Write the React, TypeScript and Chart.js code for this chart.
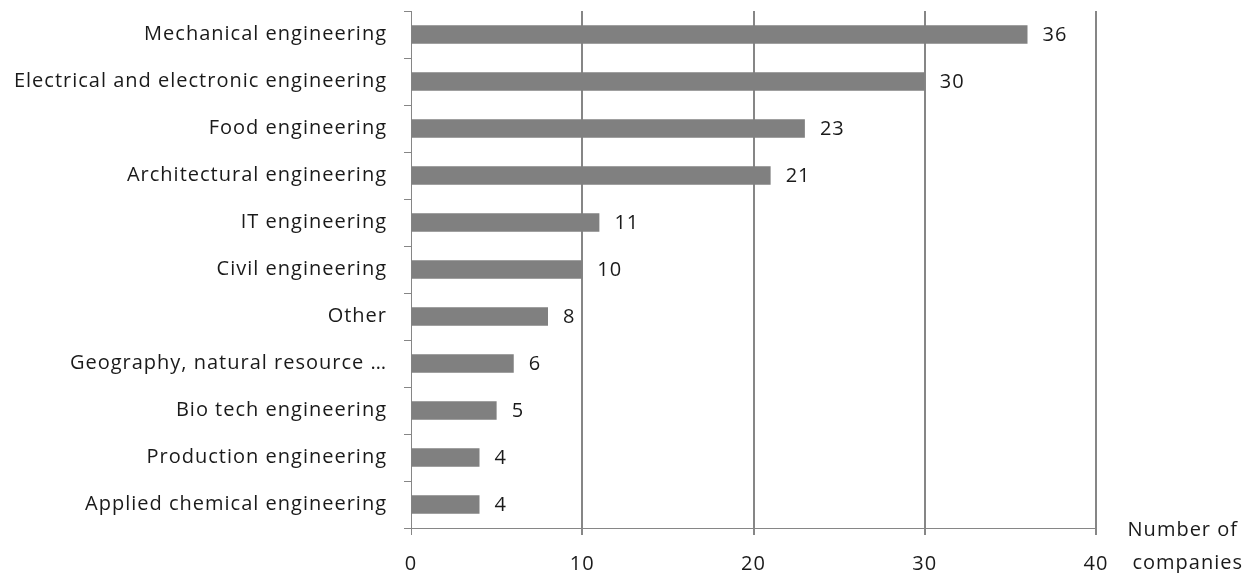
import React, { useEffect, useRef } from "react";
import { Chart, registerables } from "chart.js";

Chart.register(...registerables);

const categories: string[] = [
  "Mechanical engineering",
  "Electrical and electronic engineering",
  "Food engineering",
  "Architectural engineering",
  "IT engineering",
  "Civil engineering",
  "Other",
  "Geography, natural resource …",
  "Bio tech engineering",
  "Production engineering",
  "Applied chemical engineering",
];

const companies: number[] = [36, 30, 23, 21, 11, 10, 8, 6, 5, 4, 4];

const xTicks: number[] = [0, 10, 20, 30, 40];

const axisTitleLines: string[] = ["Number of", "companies"];

const FONT = "'Open Sans'";
const GRAY = "#868686";
const BAR = "#808080";
const TEXT = "#1a1a1a";

const spacing = {
  id: "spacing",
  beforeDraw(chart: any) {
    (chart.ctx as any).letterSpacing = "1px";
  },
};

const valueLabels = {
  id: "valueLabels",
  afterDatasetsDraw(chart: any) {
    const ctx = chart.ctx;
    const meta = chart.getDatasetMeta(0);
    ctx.save();
    ctx.letterSpacing = "1px";
    ctx.font = `20px ${FONT}`;
    ctx.fillStyle = TEXT;
    ctx.textAlign = "left";
    ctx.textBaseline = "middle";
    meta.data.forEach((bar: any, i: number) => {
      ctx.fillText(String(companies[i]), bar.x + 15, bar.y + 1);
    });
    ctx.restore();
  },
};

const axisTitle = {
  id: "axisTitle",
  afterDraw(chart: any) {
    const ctx = chart.ctx;
    const area = chart.chartArea;
    ctx.save();
    ctx.letterSpacing = "1px";
    ctx.font = `20px ${FONT}`;
    ctx.fillStyle = TEXT;
    ctx.textAlign = "right";
    ctx.textBaseline = "middle";
    ctx.fillText(axisTitleLines[0], 1238, area.bottom + 2);
    ctx.fillText(axisTitleLines[1], 1243, area.bottom + 35);
    ctx.restore();
  },
};

export default function App() {
  const ref = useRef<HTMLCanvasElement | null>(null);

  useEffect(() => {
    if (!ref.current) return;
    const chart = new Chart(ref.current, {
      type: "bar",
      data: {
        labels: categories,
        datasets: [
          {
            data: companies,
            backgroundColor: BAR,
            borderWidth: 0,
            categoryPercentage: 1,
            barPercentage: 0.39,
          },
        ],
      },
      options: {
        indexAxis: "y",
        animation: false,
        responsive: true,
        maintainAspectRatio: false,
        layout: { padding: { top: 11, right: 160, left: 0, bottom: 0 } },
        plugins: {
          legend: { display: false },
          tooltip: { enabled: false },
        },
        scales: {
          x: {
            type: "linear",
            min: xTicks[0],
            max: xTicks[xTicks.length - 1],
            afterBuildTicks(scale: any) {
              scale.ticks = xTicks.map((v) => ({ value: v }));
            },
            afterFit(scale: any) {
              scale.height = 45;
              scale.paddingLeft = 0;
              scale.paddingRight = 0;
            },
            grid: {
              color: GRAY,
              lineWidth: (c: any) => (c.tick && c.tick.value === 0 ? 1 : 2),
              drawTicks: true,
              tickLength: 7,
            },
            border: { display: true, color: GRAY, width: 1 },
            ticks: {
              color: TEXT,
              font: { family: FONT, size: 20 },
              padding: 17,
              maxRotation: 0,
            },
          },
          y: {
            type: "category",
            afterFit(scale: any) {
              scale.width = 411;
              scale.paddingTop = 0;
              scale.paddingBottom = 0;
            },
            grid: {
              display: true,
              drawOnChartArea: false,
              drawTicks: true,
              tickLength: 7,
              offset: true,
              color: GRAY,
              lineWidth: 1,
            },
            border: { display: true, color: GRAY, width: 1 },
            ticks: {
              color: TEXT,
              font: { family: FONT, size: 20 },
              padding: 17,
              autoSkip: false,
            },
          },
        },
      },
      plugins: [spacing, valueLabels, axisTitle],
    });
    return () => chart.destroy();
  }, []);

  return (
    <div style={{ position: "absolute", left: 0, top: 0, width: 1256, height: 573, background: "#fff" }}>
      <canvas ref={ref} />
    </div>
  );
}
